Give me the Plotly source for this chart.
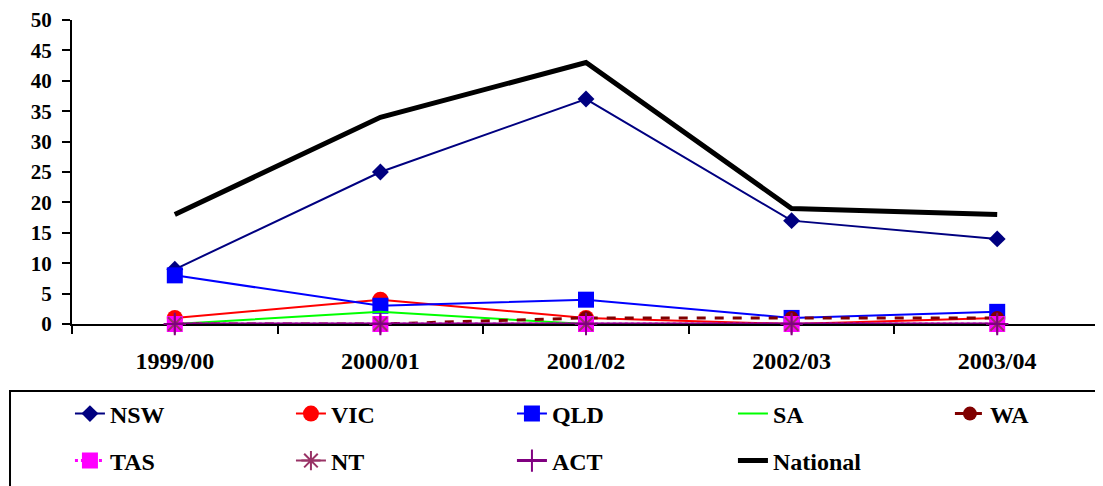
import plotly.graph_objects as go

years = ["1999/00", "2000/01", "2001/02", "2002/03", "2003/04"]
nsw = [9, 25, 37, 17, 14]
vic = [1, 4, 1, 0, 1]
qld = [8, 3, 4, 1, 2]
sa = [0, 2, 0, 0, 0]
wa = [0, 0, 1, 1, 1]
tas = [0, 0, 0, 0, 0]
nt = [0, 0, 0, 0, 0]
act = [0, 0, 0, 0, 0]
national = [18, 34, 43, 19, 18]
y_ticks = [0, 5, 10, 15, 20, 25, 30, 35, 40, 45, 50]

FONT = "Liberation Serif"

series = [
    ("NSW", nsw, dict(color="#000080", width=2), dict(symbol="diamond", size=13, color="#000080"), "legend"),
    ("VIC", vic, dict(color="#FF0000", width=2), dict(symbol="circle", size=16, color="#FF0000"), "legend"),
    ("QLD", qld, dict(color="#0000FF", width=2), dict(symbol="square", size=16, color="#0000FF"), "legend"),
    ("SA", sa, dict(color="#00FF00", width=2), None, "legend"),
    ("WA", wa, dict(color="#800000", width=3, dash="dash"), dict(symbol="circle", size=14, color="#800000"), "legend3"),
    ("TAS", tas, dict(color="#FF00FF", width=3, dash="dot"), dict(symbol="square", size=16, color="#FF00FF"), "legend2"),
    ("NT", nt, dict(color="#993366", width=2), dict(symbol="asterisk-open", size=16, line=dict(color="#993366", width=2)), "legend2"),
    ("ACT", act, dict(color="#800080", width=3), dict(symbol="cross-thin-open", size=16, line=dict(color="#800080", width=2)), "legend2"),
    ("National", national, dict(color="#000000", width=5), None, "legend2"),
]

fig = go.Figure()
for name, vals, line, marker, leg in series:
    if marker is None:
        fig.add_trace(go.Scatter(x=years, y=vals, name=name, mode="lines", line=line,
                                 legend=leg, cliponaxis=False))
    else:
        fig.add_trace(go.Scatter(x=years, y=vals, name=name, mode="lines+markers",
                                 line=line, marker=marker, legend=leg, cliponaxis=False))

legend_font = dict(family=FONT, size=24, color="black", weight="bold")
common_leg = dict(orientation="h", xanchor="left", yanchor="middle",
                  entrywidth=176, entrywidthmode="pixels", borderwidth=0,
                  bgcolor="rgba(0,0,0,0)", font=legend_font, traceorder="normal")

# page has an 8px body margin; figure sized so the plot lands where the reference has it
fig.update_layout(
    width=1095, height=478,
    margin=dict(l=64, r=3, t=12, b=162, autoexpand=False),
    paper_bgcolor="white", plot_bgcolor="white",
    font=dict(family=FONT, size=20, color="black"),
    showlegend=True,
    legend=dict(x=-0.002, y=-0.296, **common_leg),
    legend3=dict(x=0.854, y=-0.296, **common_leg),
    legend2=dict(x=-0.002, y=-0.4507, **common_leg),
    shapes=[dict(type="rect", xref="paper", yref="paper",
                 x0=-0.0603, x1=1.01, y0=-0.2204, y1=-0.60,
                 line=dict(color="black", width=2), fillcolor="rgba(0,0,0,0)")],
)
fig.update_xaxes(
    type="category", showline=True, linecolor="black", linewidth=2,
    ticks="outside", ticklen=8, tickcolor="black", tickwidth=2,
    tickson="boundaries", showgrid=False, zeroline=False,
    tickfont=dict(family=FONT, size=24, weight="bold"),
    ticklabelstandoff=14, layer="below traces",
    range=[-0.5, 4.5],
)
fig.update_yaxes(
    range=[0, 50], tickvals=y_ticks, showline=True, linecolor="black", linewidth=2,
    ticks="outside", ticklen=8, tickcolor="black", tickwidth=2,
    showgrid=False, zeroline=False,
    tickfont=dict(family=FONT, size=21, weight="bold"),
    ticklabelstandoff=6, layer="below traces",
)

fig.write_html("out.html")
